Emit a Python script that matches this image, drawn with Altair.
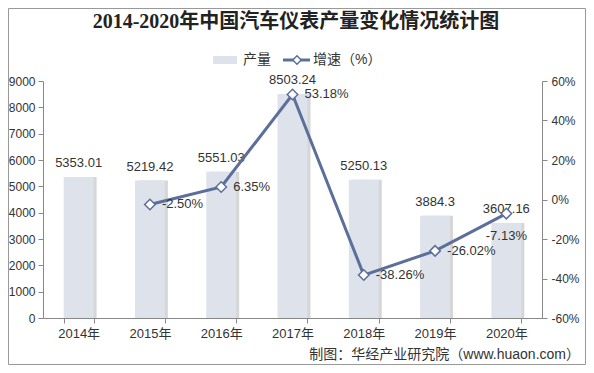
import altair as alt
import pandas as pd

years = ["2014年", "2015年", "2016年", "2017年", "2018年", "2019年", "2020年"]
output = [5353.01, 5219.42, 5551.03, 8503.24, 5250.13, 3884.3, 3607.16]
output_labels = ["5353.01", "5219.42", "5551.03", "8503.24", "5250.13", "3884.3", "3607.16"]
growth = [None, -2.50, 6.35, 53.18, -38.26, -26.02, -7.13]
growth_labels = ["", "-2.50%", "6.35%", "53.18%", "-38.26%", "-26.02%", "-7.13%"]
left_ticks = [0, 1000, 2000, 3000, 4000, 5000, 6000, 7000, 8000, 9000]
right_ticks = [-60, -40, -20, 0, 20, 40, 60]

title_text = "2014-2020年中国汽车仪表产量变化情况统计图"
legend_bar = "产量"
legend_line = "增速（%）"
footer_text = "制图：华经产业研究院（www.huaon.com）"

BAR = "#DDE2EB"
LINE = "#5B6F9A"
TXT = "#333333"
SANS = "Liberation Sans, Noto Sans CJK SC, sans-serif"

df = pd.DataFrame({"year": years, "output": output, "olab": output_labels,
                   "growth": growth, "glab": growth_labels})

x = alt.X("year:N", sort=years,
          scale=alt.Scale(paddingInner=0.58, paddingOuter=0.29),
          axis=alt.Axis(title=None, labelAngle=0, tickBand="extent", labelFontSize=13,
                        labelColor=TXT, labelFont=SANS, domainColor="#888", tickColor="#888",
                        tickSize=5, labelPadding=4, grid=False, zindex=1))

y_left = alt.Y("output:Q", scale=alt.Scale(domain=[0, 9000], nice=False),
               axis=alt.Axis(title=None, values=left_ticks, format="d", labelFontSize=12,
                             labelColor=TXT, labelFont=SANS, domainColor="#888", tickColor="#888",
                             tickSize=5, labelPadding=3, grid=False, zindex=1))

y_right = alt.Y("growth:Q", scale=alt.Scale(domain=[-60, 60], nice=False),
                axis=alt.Axis(title=None, orient="right", values=right_ticks,
                              labelExpr="datum.value + '%'", labelFontSize=12, labelColor=TXT,
                              labelFont=SANS, domainColor="#888", tickColor="#888", tickSize=5,
                              labelPadding=4, grid=False, zindex=1))

base = alt.Chart(df)

shadow = base.mark_bar(color="#8a8a8a", opacity=0.35, xOffset=3).encode(x=x, y=y_left)
bars = base.mark_bar(color=BAR).encode(x=x, y=y_left)
bar_text = base.mark_text(dy=-14, fontSize=13, color=TXT, font=SANS, baseline="middle").encode(
    x=x, y=y_left, text="olab:N")
left = alt.layer(shadow, bars, bar_text)

gbase = base.transform_filter("isValid(datum.growth)")
line = gbase.mark_line(color=LINE, strokeWidth=3).encode(x=x, y=y_right)
pts = gbase.mark_point(shape="diamond", filled=True, fill="white", stroke=LINE, strokeWidth=1.5,
                       size=110, opacity=1).encode(x=x, y=y_right)
gtext = gbase.transform_filter("datum.year != '2020年'").mark_text(
    align="left", dx=12, baseline="middle", fontSize=13, color=TXT, font=SANS).encode(
    x=x, y=y_right, text="glab:N")
gtext_last = gbase.transform_filter("datum.year == '2020年'").mark_text(
    align="center", dy=22, baseline="middle", fontSize=13, color=TXT, font=SANS).encode(
    x=x, y=y_right, text="glab:N")
right = alt.layer(line, pts, gtext, gtext_last)

one = pd.DataFrame({"a": [0]})
deco = alt.Chart(one)
border = deco.mark_rect(fill=None, stroke="#999999", strokeWidth=1).encode(
    x=alt.value(-34.5), x2=alt.value(542.5), y=alt.value(-72.5), y2=alt.value(283.5))
title = deco.mark_text(text=title_text, font="Liberation Serif, Noto Sans CJK SC, serif",
                       fontWeight="bold", fontSize=20, color="#222", align="center",
                       baseline="middle").encode(x=alt.value(253), y=alt.value(-59))
leg_swatch = deco.mark_rect(color=BAR).encode(
    x=alt.value(170), x2=alt.value(194), y=alt.value(-25), y2=alt.value(-17))
leg_bar_txt = deco.mark_text(text=legend_bar, font=SANS, fontSize=14, color=TXT, align="left",
                             baseline="middle").encode(x=alt.value(200), y=alt.value(-21))
leg_line = deco.mark_rule(color=LINE, strokeWidth=3).encode(
    x=alt.value(240), x2=alt.value(267), y=alt.value(-21))
leg_pt = deco.mark_point(shape="diamond", filled=True, fill="white", stroke=LINE, strokeWidth=1.5,
                         size=70, opacity=1).encode(x=alt.value(254), y=alt.value(-21))
leg_line_txt = deco.mark_text(text=legend_line, font=SANS, fontSize=14, color=TXT, align="left",
                              baseline="middle").encode(x=alt.value(270), y=alt.value(-21))
footer = deco.mark_text(text=footer_text, font=SANS, fontSize=14, color=TXT, align="right",
                        baseline="middle").encode(x=alt.value(537), y=alt.value(274))

chart = alt.layer(
    left, right, border, title, leg_swatch, leg_bar_txt, leg_line, leg_pt, leg_line_txt, footer
).resolve_scale(y="independent").properties(
    width=499, height=237,
    autosize=alt.AutoSizeParams(type="none"),
    padding={"left": 35, "top": 73, "right": 44, "bottom": 47},
    background="white",
).configure_view(stroke=None)

chart.save("out.html", embed_options={"renderer": "svg", "actions": False})
